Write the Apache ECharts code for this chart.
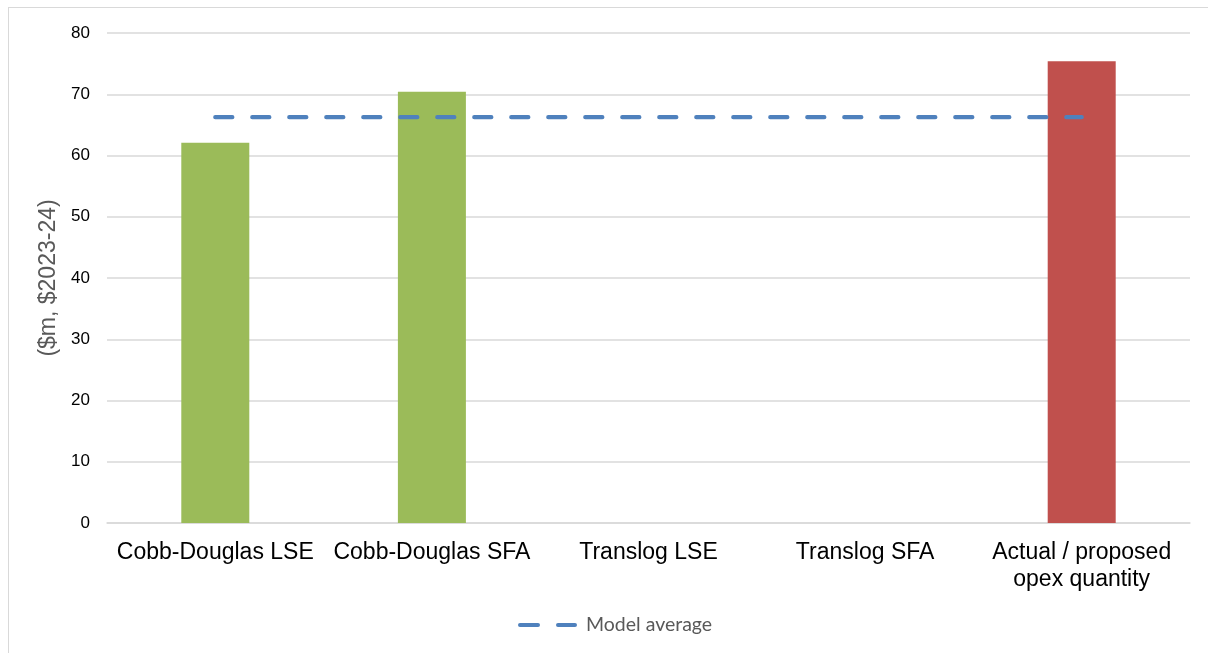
<!DOCTYPE html>
<html>
<head>
<meta charset="utf-8">
<title>Opex model comparison</title>
<script src="https://cdn.jsdelivr.net/npm/echarts@6/dist/echarts.min.js"></script>
<style>
  html, body { margin: 0; padding: 0; width: 1208px; height: 653px; overflow: hidden; background: #fff; }
  #frame { position: absolute; left: 8px; top: 7px; width: 1400px; height: 800px;
           border-left: 1px solid #d9d9d9; border-top: 1px solid #d9d9d9; box-sizing: border-box; }
  #chart { position: absolute; left: 0; top: 0; width: 1208px; height: 653px; }
</style>
</head>
<body>
<div id="frame"></div>
<div id="chart"></div>
<script>
// Benchmark models and the business's own forecast
const categories = ['Cobb-Douglas LSE', 'Cobb-Douglas SFA', 'Translog LSE', 'Translog SFA', 'Actual / proposed\nopex quantity'];
// Forecast opex ($m, $2023-24); translog models give no result
const opexValues = [62.1, 70.4, null, null, 75.4];
// Average of the model forecasts, drawn across all categories
const modelAverage = [66.25, 66.25, 66.25, 66.25, 66.25];
const yTicks = { min: 0, max: 80, interval: 10 };
const legendLabel = 'Model average';

const MODEL_GREEN = '#9BBB59';
const ACTUAL_RED = '#C0504D';
const AVG_BLUE = '#4F81BD';
const GRID_GREY = '#D9D9D9';

// Legend key: two short rounded dashes, like the dashed average line
const DASH_KEY = 'path://M2,0L20,0A2,2 0 0 1 20,4L2,4A2,2 0 0 1 2,0Z' +
                 'M40,0L57,0A2,2 0 0 1 57,4L40,4A2,2 0 0 1 40,0Z';

const chart = echarts.init(document.getElementById('chart'), null, { renderer: 'canvas' });

chart.setOption({
  animation: false,
  backgroundColor: 'transparent',
  grid: { left: 107, right: 18, top: 33, bottom: 130, containLabel: false },
  legend: {
    data: [{ name: legendLabel, icon: DASH_KEY }],
    left: 518,
    top: 615,
    padding: 0,
    itemWidth: 59,
    itemHeight: 4,
    itemStyle: { color: AVG_BLUE },
    textStyle: { fontFamily: 'Lato', fontSize: 19.5, lineHeight: 20, color: '#595959', padding: [0, 0, 0, 4] }
  },
  xAxis: {
    type: 'category',
    data: categories,
    axisLine: { show: true, lineStyle: { color: GRID_GREY, width: 1.5 } },
    axisTick: { show: false },
    axisLabel: {
      interval: 0,
      margin: 16,
      color: '#000',
      fontFamily: 'Liberation Sans',
      fontSize: 23,
      lineHeight: 27
    }
  },
  yAxis: {
    type: 'value',
    min: yTicks.min,
    max: yTicks.max,
    interval: yTicks.interval,
    name: '($m, $2023-24)',
    nameLocation: 'middle',
    nameGap: 40,
    nameTextStyle: { color: '#595959', fontFamily: 'Liberation Sans', fontSize: 23 },
    axisLine: { show: false },
    axisTick: { show: false },
    axisLabel: { margin: 17, color: '#000', fontFamily: 'Liberation Sans', fontSize: 17 },
    splitLine: { lineStyle: { color: GRID_GREY, width: 1.5 } }
  },
  series: [
    {
      name: 'Forecast opex',
      type: 'bar',
      data: opexValues,
      barWidth: 68,
      itemStyle: {
        color: function (p) { return p.dataIndex === categories.length - 1 ? ACTUAL_RED : MODEL_GREEN; }
      },
      z: 2
    },
    {
      name: legendLabel,
      type: 'line',
      data: modelAverage,
      symbol: 'none',
      lineStyle: { color: AVG_BLUE, width: 4.3, type: [17, 20], cap: 'round' },
      itemStyle: { color: AVG_BLUE },
      z: 5
    }
  ]
});
</script>
</body>
</html>
